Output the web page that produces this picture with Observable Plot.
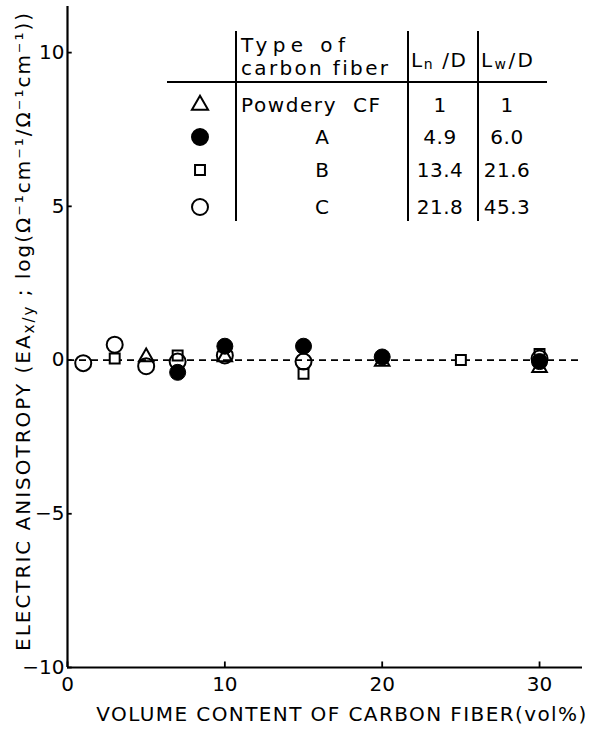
<!DOCTYPE html>
<html>
<head>
<meta charset="utf-8">
<script src="https://cdn.jsdelivr.net/npm/d3@7"></script>
<script src="https://cdn.jsdelivr.net/npm/@observablehq/plot@0.6"></script>
<style>
  html, body { margin: 0; padding: 0; background: #fff; }
  svg { display: block; }
</style>
</head>
<body>
<div id="chart"></div>
<script>
// ---- data ----
const powderyX = [5, 10, 20, 30];
const powderyY = [0.1, 0.1, -0.05, -0.25];
const fiberAX = [7, 10, 15, 20, 30];
const fiberAY = [-0.4, 0.45, 0.45, 0.1, -0.05];
const fiberBX = [3, 7, 15, 25, 30];
const fiberBY = [0.05, 0.15, -0.45, 0, 0.2];
const fiberCX = [1, 3, 5, 7, 10, 15, 30];
const fiberCY = [-0.1, 0.5, -0.2, -0.05, 0.15, -0.05, 0.05];

const xTicks = [0, 10, 20, 30];
const yTicks = [-10, -5, 0, 5, 10];

const fiberTypes = ["Powdery  CF", "A", "B", "C"];
const lnD = ["1", "4.9", "13.4", "21.8"];
const lwD = ["1", "6.0", "21.6", "45.3"];

const xMax = 32.73, yMin = -10, yMax = 11.5;
const FONT = "'DejaVu Sans', sans-serif";

const toRows = (xs, ys) => xs.map((x, i) => ({x, y: ys[i]}));

const rT = 5.4, rS = 5.6, rC = 8;

const chart = Plot.plot({
  width: 592,
  height: 730,
  marginLeft: 67,
  marginRight: 10,
  marginTop: 6,
  marginBottom: 63,
  x: {domain: [0, xMax]},
  y: {domain: [yMin, yMax]},
  style: {fontFamily: FONT, fontSize: "20px", color: "#000", background: "#fff"},
  marks: [
    Plot.ruleY([0], {x1: 0, x2: xMax, stroke: "#000", strokeWidth: 1.8, strokeDasharray: "7,5"}),
    Plot.ruleX([0], {y1: yMin, y2: yMax, stroke: "#000", strokeWidth: 2.2}),
    Plot.ruleY([yMin], {x1: 0, x2: xMax, stroke: "#000", strokeWidth: 2.2}),
    Plot.ruleY(yTicks, {x1: 0, x2: 0.3, stroke: "#000", strokeWidth: 1.8}),
    Plot.ruleX(xTicks, {y1: yMin, y2: yMin + 0.18, stroke: "#000", strokeWidth: 1.8}),
    Plot.axisY({ticks: yTicks, tickSize: 0, tickPadding: 3, label: null, fontSize: 20}),
    Plot.axisX({ticks: xTicks, tickSize: 0, tickPadding: 9, label: null, fontSize: 20}),
    Plot.dot(toRows(powderyX, powderyY), {x: "x", y: "y", symbol: "triangle", r: rT, stroke: "#000", strokeWidth: 2, fill: "none"}),
    Plot.dot(toRows(fiberBX, fiberBY), {x: "x", y: "y", symbol: "square", r: rS, stroke: "#000", strokeWidth: 2, fill: "#fff"}),
    Plot.dot(toRows(fiberCX, fiberCY), {x: "x", y: "y", symbol: "circle", r: rC, stroke: "#000", strokeWidth: 2, fill: "none"}),
    Plot.dot(toRows(fiberAX, fiberAY), {x: "x", y: "y", symbol: "circle", r: rC, stroke: "#000", strokeWidth: 1, fill: "#000"})
  ]
});
document.getElementById("chart").appendChild(chart);

const svg = d3.select(chart);

// stretch a text to a target length using letter-spacing
function fit(sel, target) {
  const node = sel.node();
  const len = node.getComputedTextLength();
  const n = node.textContent.length;
  if (n > 1) sel.attr("letter-spacing", (target - len) / (n - 1));
}

// ---- axis titles ----
const yt = svg.append("text")
  .attr("transform", "translate(30,331) rotate(-90)")
  .attr("text-anchor", "middle")
  .attr("font-family", FONT).attr("font-size", 20).attr("fill", "#000");
yt.append("tspan").text("ELECTRIC ANISOTROPY (EA");
yt.append("tspan").attr("font-size", 15).attr("dy", 4).text("x/y");
yt.append("tspan").attr("dy", -4).text(" ; log(Ω⁻¹cm⁻¹/Ω⁻¹cm⁻¹))");
fit(yt, 638);

const xt = svg.append("text")
  .attr("x", 342).attr("y", 721)
  .attr("text-anchor", "middle")
  .attr("font-family", FONT).attr("font-size", 20).attr("fill", "#000")
  .text("VOLUME CONTENT OF CARBON FIBER(vol%)");
fit(xt, 490);

// ---- legend table ----
const lg = svg.append("g").attr("font-family", FONT).attr("font-size", 20).attr("fill", "#000").attr("text-anchor", "start");
lg.append("line").attr("x1", 167).attr("x2", 547).attr("y1", 82).attr("y2", 82).attr("stroke", "#000").attr("stroke-width", 2);
[236, 408, 478].forEach(x => lg.append("line").attr("x1", x).attr("x2", x).attr("y1", 31).attr("y2", 221).attr("stroke", "#000").attr("stroke-width", 2));
const t1 = lg.append("text").attr("x", 241).attr("y", 52).attr("text-anchor", "start").text("Type of");
fit(t1, 104);
const t2 = lg.append("text").attr("x", 241).attr("y", 75).attr("text-anchor", "start").text("carbon fiber");
fit(t2, 147);
const h1 = lg.append("text").attr("x", 411).attr("y", 67).attr("text-anchor", "start");
h1.append("tspan").text("L");
h1.append("tspan").attr("font-size", 14).attr("dy", 2).text("n");
h1.append("tspan").attr("dy", -2).text(" /D");
fit(h1, 55);
const h2 = lg.append("text").attr("x", 481).attr("y", 67).attr("text-anchor", "start");
h2.append("tspan").text("L");
h2.append("tspan").attr("font-size", 14).attr("dy", 2).text("w");
h2.append("tspan").attr("dy", -2).text("/D");
fit(h2, 52);

const rowY = [105, 137, 170, 207];
const syms = [
  {type: d3.symbolTriangle, r: rT + 0.6, fill: "none"},
  {type: d3.symbolCircle, r: rC, fill: "#000"},
  {type: d3.symbolSquare, r: rS, fill: "#fff"},
  {type: d3.symbolCircle, r: rC, fill: "none"}
];
fiberTypes.forEach((name, i) => {
  const s = syms[i];
  lg.append("path")
    .attr("d", d3.symbol().type(s.type).size(Math.PI * s.r * s.r)())
    .attr("transform", `translate(200,${rowY[i]})`)
    .attr("fill", s.fill).attr("stroke", "#000").attr("stroke-width", 2);
  const t = lg.append("text")
    .attr("x", i === 0 ? 241 : 322).attr("y", rowY[i]).attr("dy", "0.36em")
    .attr("text-anchor", i === 0 ? "start" : "middle")
    .text(name);
  if (i === 0) fit(t, 139);
  lg.append("text").attr("x", 440).attr("y", rowY[i]).attr("dy", "0.36em").attr("text-anchor", "middle").attr("letter-spacing", 0.5).text(lnD[i]);
  lg.append("text").attr("x", 507).attr("y", rowY[i]).attr("dy", "0.36em").attr("text-anchor", "middle").attr("letter-spacing", 0.5).text(lwD[i]);
});
</script>
</body>
</html>
